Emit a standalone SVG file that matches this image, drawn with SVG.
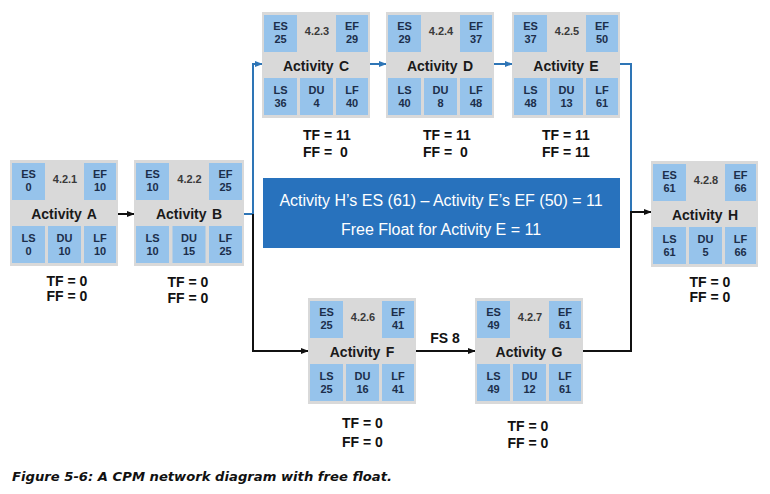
<svg xmlns="http://www.w3.org/2000/svg" width="770" height="494" viewBox="0 0 770 494">
<style>
.box{fill:#d9d9d9}
.cell{fill:#96c3eb}
.ct{font-family:"Liberation Sans",Arial,sans-serif;font-weight:bold;font-size:11px;fill:#1c2e4a;text-anchor:middle}
.id{font-family:"Liberation Sans",Arial,sans-serif;font-weight:bold;font-size:11px;fill:#3a3a3a;text-anchor:middle}
.act{font-family:"Liberation Sans",Arial,sans-serif;font-weight:bold;font-size:14px;fill:#1a1a1a;text-anchor:middle;word-spacing:1.5px}
.fl{font-family:"Liberation Sans",Arial,sans-serif;font-weight:bold;font-size:14px;fill:#111}
.flm{text-anchor:middle}
.bl{fill:none;stroke:#111;stroke-width:2}
.bu{fill:none;stroke:#2e75b6;stroke-width:2}
.note{font-family:"Liberation Sans",Arial,sans-serif;font-size:16px;fill:#fff;text-anchor:middle}
.cap{font-family:"DejaVu Sans",Verdana,sans-serif;font-weight:bold;font-style:italic;font-size:13px;fill:#111}
</style>
<defs>
<marker id="ak" viewBox="0 0 10 10" refX="9" refY="5" markerWidth="8" markerHeight="8" markerUnits="userSpaceOnUse" orient="auto"><path d="M0,1 L10,5 L0,9 z" fill="#111"/></marker>
<marker id="au" viewBox="0 0 10 10" refX="9" refY="5" markerWidth="8" markerHeight="8" markerUnits="userSpaceOnUse" orient="auto"><path d="M0,1 L10,5 L0,9 z" fill="#2e75b6"/></marker>
</defs>

<g id="connectors">
<path class="bl" d="M118 214 H134" marker-end="url(#ak)"/>
<path class="bu" d="M244 214 H253 V64 H262" marker-end="url(#au)"/>
<path class="bl" d="M253 214 V351 H308" marker-end="url(#ak)"/>
<path class="bu" d="M370 64 H386" marker-end="url(#au)"/>
<path class="bu" d="M494 64 H512" marker-end="url(#au)"/>
<path class="bu" d="M620 64 H631 V212"/>
<path class="bl" d="M583 351 H631 V212 H651" marker-end="url(#ak)"/>
<path class="bl" d="M416 351 H475" marker-end="url(#ak)"/>
<text class="fl flm" x="445" y="343">FS 8</text>
</g>

<g id="node-A" transform="translate(10,160)">
<rect class="box" width="108" height="106"/>
<rect class="cell" x="2" y="3" width="33" height="37"/><rect class="cell" x="74" y="3" width="32" height="37"/>
<rect class="cell" x="2" y="66" width="33" height="37"/><rect class="cell" x="38" y="66" width="33" height="37"/><rect class="cell" x="74" y="66" width="32" height="37"/>
<text class="ct" x="18.5" y="18">ES</text><text class="ct" x="18.5" y="31">0</text>
<text class="id" x="55" y="23">4.2.1</text>
<text class="ct" x="90" y="18">EF</text><text class="ct" x="90" y="31">10</text>
<text class="act" x="54" y="59">Activity A</text>
<text class="ct" x="18.5" y="82">LS</text><text class="ct" x="18.5" y="95">0</text>
<text class="ct" x="54.5" y="82">DU</text><text class="ct" x="54.5" y="95">10</text>
<text class="ct" x="90" y="82">LF</text><text class="ct" x="90" y="95">10</text>
<text class="fl flm" x="57" y="126">TF = 0</text><text class="fl flm" x="57" y="141">FF = 0</text>
</g>

<g id="node-B" transform="translate(134,160)">
<rect class="box" width="110" height="106"/>
<rect class="cell" x="2" y="3" width="33" height="37"/><rect class="cell" x="75" y="3" width="33" height="37"/>
<rect class="cell" x="2" y="66" width="33" height="37"/><rect class="cell" x="38.5" y="66" width="33" height="37"/><rect class="cell" x="75" y="66" width="33" height="37"/>
<text class="ct" x="18.5" y="18">ES</text><text class="ct" x="18.5" y="31">10</text>
<text class="id" x="55.5" y="23">4.2.2</text>
<text class="ct" x="91.5" y="18">EF</text><text class="ct" x="91.5" y="31">25</text>
<text class="act" x="55" y="59">Activity B</text>
<text class="ct" x="18.5" y="82">LS</text><text class="ct" x="18.5" y="95">10</text>
<text class="ct" x="55" y="82">DU</text><text class="ct" x="55" y="95">15</text>
<text class="ct" x="91.5" y="82">LF</text><text class="ct" x="91.5" y="95">25</text>
<text class="fl flm" x="54" y="127">TF = 0</text><text class="fl flm" x="54" y="143">FF = 0</text>
</g>

<g id="node-C" transform="translate(262,12)">
<rect class="box" width="108" height="106"/>
<rect class="cell" x="2" y="3" width="33" height="37"/><rect class="cell" x="74" y="3" width="32" height="37"/>
<rect class="cell" x="2" y="66" width="33" height="37"/><rect class="cell" x="38" y="66" width="33" height="37"/><rect class="cell" x="74" y="66" width="32" height="37"/>
<text class="ct" x="18.5" y="18">ES</text><text class="ct" x="18.5" y="31">25</text>
<text class="id" x="55" y="23">4.2.3</text>
<text class="ct" x="90" y="18">EF</text><text class="ct" x="90" y="31">29</text>
<text class="act" x="54" y="59">Activity C</text>
<text class="ct" x="18.5" y="82">LS</text><text class="ct" x="18.5" y="95">36</text>
<text class="ct" x="54.5" y="82">DU</text><text class="ct" x="54.5" y="95">4</text>
<text class="ct" x="90" y="82">LF</text><text class="ct" x="90" y="95">40</text>
<text class="fl" x="41" y="128">TF = 11</text><text class="fl" x="41" y="145" xml:space="preserve">FF =  0</text>
</g>

<g id="node-D" transform="translate(386,12)">
<rect class="box" width="108" height="106"/>
<rect class="cell" x="2" y="3" width="33" height="37"/><rect class="cell" x="74" y="3" width="32" height="37"/>
<rect class="cell" x="2" y="66" width="33" height="37"/><rect class="cell" x="38" y="66" width="33" height="37"/><rect class="cell" x="74" y="66" width="32" height="37"/>
<text class="ct" x="18.5" y="18">ES</text><text class="ct" x="18.5" y="31">29</text>
<text class="id" x="55" y="23">4.2.4</text>
<text class="ct" x="90" y="18">EF</text><text class="ct" x="90" y="31">37</text>
<text class="act" x="54" y="59">Activity D</text>
<text class="ct" x="18.5" y="82">LS</text><text class="ct" x="18.5" y="95">40</text>
<text class="ct" x="54.5" y="82">DU</text><text class="ct" x="54.5" y="95">8</text>
<text class="ct" x="90" y="82">LF</text><text class="ct" x="90" y="95">48</text>
<text class="fl" x="37" y="128">TF = 11</text><text class="fl" x="37" y="145" xml:space="preserve">FF =  0</text>
</g>

<g id="node-E" transform="translate(512,12)">
<rect class="box" width="108" height="106"/>
<rect class="cell" x="2" y="3" width="33" height="37"/><rect class="cell" x="74" y="3" width="32" height="37"/>
<rect class="cell" x="2" y="66" width="33" height="37"/><rect class="cell" x="38" y="66" width="33" height="37"/><rect class="cell" x="74" y="66" width="32" height="37"/>
<text class="ct" x="18.5" y="18">ES</text><text class="ct" x="18.5" y="31">37</text>
<text class="id" x="55" y="23">4.2.5</text>
<text class="ct" x="90" y="18">EF</text><text class="ct" x="90" y="31">50</text>
<text class="act" x="54" y="59">Activity E</text>
<text class="ct" x="18.5" y="82">LS</text><text class="ct" x="18.5" y="95">48</text>
<text class="ct" x="54.5" y="82">DU</text><text class="ct" x="54.5" y="95">13</text>
<text class="ct" x="90" y="82">LF</text><text class="ct" x="90" y="95">61</text>
<text class="fl" x="30" y="128">TF = 11</text><text class="fl" x="30" y="145">FF = 11</text>
</g>

<g id="node-F" transform="translate(308,298)">
<rect class="box" width="108" height="106"/>
<rect class="cell" x="2" y="3" width="33" height="37"/><rect class="cell" x="74" y="3" width="32" height="37"/>
<rect class="cell" x="2" y="66" width="33" height="37"/><rect class="cell" x="38" y="66" width="33" height="37"/><rect class="cell" x="74" y="66" width="32" height="37"/>
<text class="ct" x="18.5" y="18">ES</text><text class="ct" x="18.5" y="31">25</text>
<text class="id" x="55" y="23">4.2.6</text>
<text class="ct" x="90" y="18">EF</text><text class="ct" x="90" y="31">41</text>
<text class="act" x="54" y="59">Activity F</text>
<text class="ct" x="18.5" y="82">LS</text><text class="ct" x="18.5" y="95">25</text>
<text class="ct" x="54.5" y="82">DU</text><text class="ct" x="54.5" y="95">16</text>
<text class="ct" x="90" y="82">LF</text><text class="ct" x="90" y="95">41</text>
<text class="fl flm" x="54.5" y="130">TF = 0</text><text class="fl flm" x="54.5" y="149">FF = 0</text>
</g>

<g id="node-G" transform="translate(475,298)">
<rect class="box" width="108" height="106"/>
<rect class="cell" x="2" y="3" width="33" height="37"/><rect class="cell" x="74" y="3" width="32" height="37"/>
<rect class="cell" x="2" y="66" width="33" height="37"/><rect class="cell" x="38" y="66" width="33" height="37"/><rect class="cell" x="74" y="66" width="32" height="37"/>
<text class="ct" x="18.5" y="18">ES</text><text class="ct" x="18.5" y="31">49</text>
<text class="id" x="55" y="23">4.2.7</text>
<text class="ct" x="90" y="18">EF</text><text class="ct" x="90" y="31">61</text>
<text class="act" x="54" y="59">Activity G</text>
<text class="ct" x="18.5" y="82">LS</text><text class="ct" x="18.5" y="95">49</text>
<text class="ct" x="54.5" y="82">DU</text><text class="ct" x="54.5" y="95">12</text>
<text class="ct" x="90" y="82">LF</text><text class="ct" x="90" y="95">61</text>
<text class="fl flm" x="53" y="133">TF = 0</text><text class="fl flm" x="53" y="150">FF = 0</text>
</g>

<g id="node-H" transform="translate(651,161)">
<rect class="box" width="107" height="106"/>
<rect class="cell" x="2" y="3" width="33" height="37"/><rect class="cell" x="74" y="3" width="31" height="37"/>
<rect class="cell" x="2" y="66" width="33" height="37"/><rect class="cell" x="38" y="66" width="33" height="37"/><rect class="cell" x="74" y="66" width="31" height="37"/>
<text class="ct" x="18.5" y="18">ES</text><text class="ct" x="18.5" y="31">61</text>
<text class="id" x="55" y="23">4.2.8</text>
<text class="ct" x="89.5" y="18">EF</text><text class="ct" x="89.5" y="31">66</text>
<text class="act" x="54" y="59">Activity H</text>
<text class="ct" x="18.5" y="82">LS</text><text class="ct" x="18.5" y="95">61</text>
<text class="ct" x="54.5" y="82">DU</text><text class="ct" x="54.5" y="95">5</text>
<text class="ct" x="89.5" y="82">LF</text><text class="ct" x="89.5" y="95">66</text>
<text class="fl flm" x="59" y="126">TF = 0</text><text class="fl flm" x="59" y="141">FF = 0</text>
</g>

<g id="note">
<rect x="263" y="178" width="357" height="70" fill="#2872bd"/>
<text class="note" x="441" y="206">Activity H’s ES (61) – Activity E’s EF (50) = 11</text>
<text class="note" x="441" y="235">Free Float for Activity E = 11</text>
</g>

<text class="cap" x="12" y="481" textLength="380" lengthAdjust="spacingAndGlyphs">Figure 5-6: A CPM network diagram with free float.</text>
</svg>
